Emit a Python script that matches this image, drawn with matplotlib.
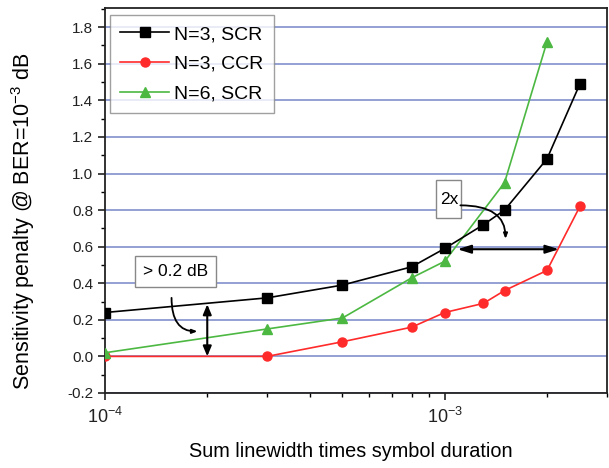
import matplotlib
matplotlib.use("Agg")
import matplotlib.pyplot as plt
from matplotlib.patches import Rectangle
from matplotlib.ticker import MultipleLocator, LogLocator, NullFormatter, FixedLocator, FixedFormatter

plt.rcParams['font.family'] = ['Liberation Sans', 'DejaVu Sans']
plt.rcParams['mathtext.fontset'] = 'custom'
plt.rcParams['mathtext.rm'] = 'Liberation Sans'
plt.rcParams['mathtext.it'] = 'Liberation Sans'

# data
x_n3_scr = [1e-4, 3e-4, 5e-4, 8e-4, 1e-3, 1.3e-3, 1.5e-3, 2e-3, 2.5e-3]
y_n3_scr = [0.24, 0.32, 0.39, 0.49, 0.59, 0.72, 0.80, 1.08, 1.49]
x_n3_ccr = [1e-4, 3e-4, 5e-4, 8e-4, 1e-3, 1.3e-3, 1.5e-3, 2e-3, 2.5e-3]
y_n3_ccr = [0.0, 0.0, 0.08, 0.16, 0.24, 0.29, 0.36, 0.47, 0.82]
x_n6_scr = [1e-4, 3e-4, 5e-4, 8e-4, 1e-3, 1.5e-3, 2e-3]
y_n6_scr = [0.02, 0.15, 0.21, 0.43, 0.52, 0.95, 1.72]
labels = ["N=3, SCR", "N=3, CCR", "N=6, SCR"]
xtick_vals = [1e-4, 1e-3]
xtick_labels = [r'$10^{-4}$', r'$10^{-3}$']

fig = plt.figure(figsize=(6.09, 4.68), dpi=100)
ax = fig.add_axes([0.1724, 0.1603, 0.824, 0.8226])

ax.plot(x_n3_scr, y_n3_scr, color='black', marker='s', ms=6.5, lw=1.2, label=labels[0], zorder=5)
ax.plot(x_n3_ccr, y_n3_ccr, color='#ff2a2a', marker='o', ms=6.5, lw=1.2, label=labels[1], zorder=4)
ax.plot(x_n6_scr, y_n6_scr, color='#4cb842', marker='^', ms=7, lw=1.2, label=labels[2], zorder=4)

ax.set_xscale('log')
ax.set_xlim(1e-4, 3e-3)
ax.set_ylim(-0.2, 1.905)

ax.yaxis.set_major_locator(MultipleLocator(0.2))
ax.yaxis.set_minor_locator(MultipleLocator(0.1))
ax.yaxis.set_major_formatter(matplotlib.ticker.FormatStrFormatter('%.1f'))
ax.xaxis.set_major_locator(FixedLocator(xtick_vals))
ax.xaxis.set_major_formatter(FixedFormatter(xtick_labels))
ax.xaxis.set_minor_locator(LogLocator(base=10, subs=range(2, 10)))
ax.xaxis.set_minor_formatter(NullFormatter())

ax.tick_params(axis='both', which='major', direction='out', length=5, width=1.2,
               labelsize=11, colors='#222222', pad=3.5)
ax.tick_params(axis='both', which='minor', direction='out', length=3, width=1.0)
ax.tick_params(axis='x', which='major', labelsize=13, pad=5)

for sp in ax.spines.values():
    sp.set_linewidth(1.3)
    sp.set_color('#222222')

ax.yaxis.grid(True, which='major', color='#8a98cf', lw=1.3)
ax.set_axisbelow(True)

ax.set_xlabel('Sum linewidth times symbol duration', fontsize=14.3)
ax.set_ylabel('Sensitivity penalty @ BER=10$^{-3}$ dB', fontsize=15.5)
ax.xaxis.set_label_coords(0.49, -0.127)
ax.yaxis.set_label_coords(-0.136, 0.447)

leg = ax.legend(loc='upper left', bbox_to_anchor=(0.0094, 0.982), fontsize=14, frameon=True,
                fancybox=False, edgecolor='#888888', handlelength=2.5, handletextpad=0.26,
                labelspacing=0.62, borderpad=0.55, borderaxespad=0.0)
leg.get_frame().set_linewidth(1.0)

# annotations
ax.text(1.614e-4, 0.465, '> 0.2 dB', fontsize=12.5, ha='center', va='center',
        bbox=dict(boxstyle='square,pad=0.45', fc='white', ec='#888888', lw=1.0), zorder=6)
ax.annotate('', xy=(2e-4, 0.0), xytext=(2e-4, 0.285),
            arrowprops=dict(arrowstyle='<|-|>,head_length=0.6,head_width=0.25', color='black', lw=1.5,
                            shrinkA=0, shrinkB=0), zorder=6)
ax.annotate('', xy=(1.87e-4, 0.137), xytext=(1.57e-4, 0.32),
            arrowprops=dict(arrowstyle='-|>,head_length=0.3,head_width=0.12', color='black', lw=1.3,
                            connectionstyle='angle3,angleA=90,angleB=0', shrinkA=0, shrinkB=0), zorder=6)

ax.add_patch(Rectangle((0.6596, 0.4545), 0.0498, 0.0985, transform=ax.transAxes,
                       fc='white', ec='#888888', lw=1.0, zorder=6))
ax.text(1.029e-3, 0.859, '2x', fontsize=12.5, ha='center', va='center', zorder=7)
ax.annotate('', xy=(2.17e-3, 0.586), xytext=(1.09e-3, 0.586),
            arrowprops=dict(arrowstyle='<|-|>,head_length=0.8,head_width=0.25', color='black', lw=1.5,
                            shrinkA=0, shrinkB=0), zorder=6)
ax.annotate('', xy=(1.51e-3, 0.643), xytext=(1.112e-3, 0.826),
            arrowprops=dict(arrowstyle='-|>,head_length=0.3,head_width=0.12', color='black', lw=1.3,
                            connectionstyle='angle3,angleA=0,angleB=90', shrinkA=0, shrinkB=0), zorder=6)

fig.savefig('out.png', dpi=100, facecolor='white')
